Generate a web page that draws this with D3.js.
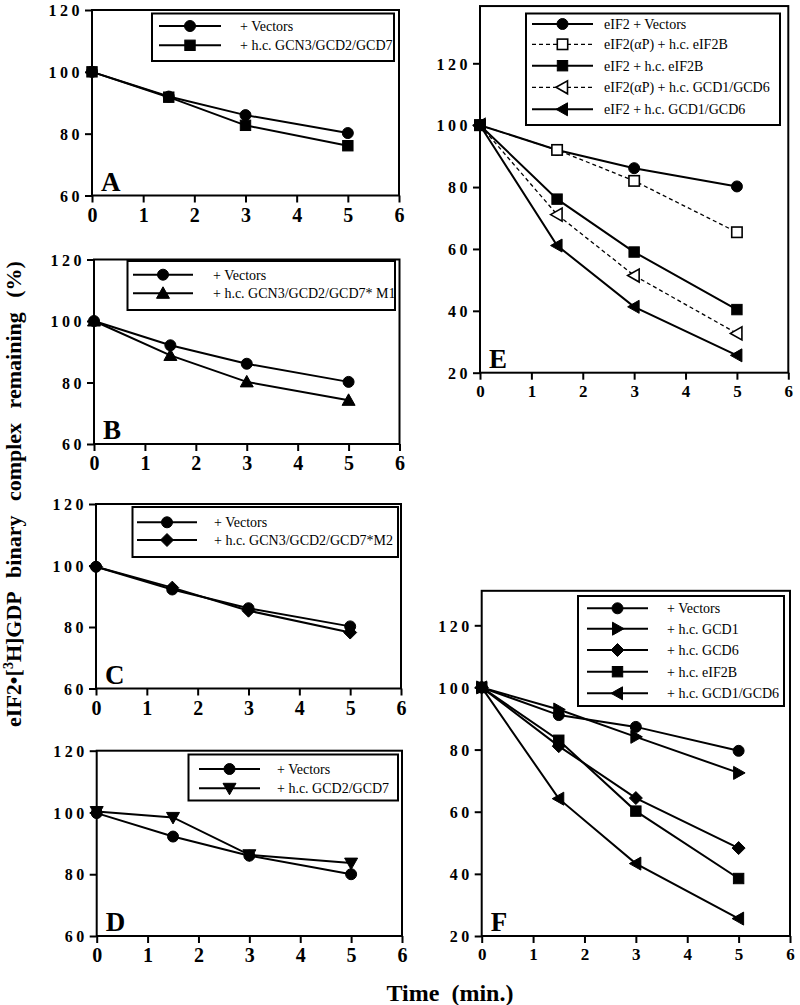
<!DOCTYPE html>
<html><head><meta charset="utf-8">
<script src="https://cdn.jsdelivr.net/npm/d3@7"></script>
<style>
body{margin:0;background:#fff;}
svg{display:block;}
text{font-family:"Liberation Serif","Times New Roman",serif;}
</style></head>
<body>
<svg id="chart" width="800" height="1005"></svg>
<script>
// ---------- data ----------
const times = [0, 1.5, 3, 5];
const xTicks = [0, 1, 2, 3, 4, 5, 6];
const yTicksSmall = [60, 80, 100, 120];
const yTicksLarge = [20, 40, 60, 80, 100, 120];

const A_vectors = [100, 92, 86, 80.2];
const A_gcn3 = [100, 91.8, 82.7, 76.1];
const B_vectors = [100, 92.1, 86.1, 80.2];
const B_m1 = [100, 88.8, 80.2, 74.2];
const C_vectors = [99.6, 92.2, 86.1, 80.2];
const C_m2 = [99.6, 92.8, 85.3, 78.2];
const D_vectors = [99.8, 92.2, 86, 80];
const D_gcd27 = [100.3, 98.4, 86.3, 83.6];

const E_vectors = [100, 92, 86.1, 80.2];
const E_p_eif2b = [100, 92, 82, 65.4];
const E_eif2b = [100, 76.1, 59, 40.4];
const E_p_gcd16 = [100, 71.1, 51.4, 32.7];
const E_gcd16 = [100, 61.1, 41.3, 25.6];

const F_vectors = [100, 91.1, 87.3, 79.6];
const F_gcd1 = [100, 92.9, 84.1, 72.5];
const F_gcd6 = [100, 81.1, 64.4, 48.3];
const F_eif2b = [100, 83, 60.2, 38.5];
const F_gcd16 = [100, 64.2, 43.3, 25.6];

const A_labels = ["+ Vectors", "+ h.c. GCN3/GCD2/GCD7"];
const B_labels = ["+ Vectors", "+ h.c. GCN3/GCD2/GCD7* M1"];
const C_labels = ["+ Vectors", "+ h.c. GCN3/GCD2/GCD7*M2"];
const D_labels = ["+ Vectors", "+ h.c. GCD2/GCD7"];
const E_labels = ["eIF2 + Vectors", "eIF2(\u03B1P) + h.c. eIF2B", "eIF2 + h.c. eIF2B", "eIF2(\u03B1P) + h.c. GCD1/GCD6", "eIF2 + h.c. GCD1/GCD6"];
const F_labels = ["+ Vectors", "+ h.c. GCD1", "+ h.c. GCD6", "+ h.c. eIF2B", "+ h.c. GCD1/GCD6"];

// ---------- layout ----------
const svg = d3.select("#chart");
const FONT = '"Liberation Serif","Times New Roman",serif';

function marker(g, type, cx, cy){
  let el;
  const filled = !type.startsWith("open");
  const t = type.replace("open-","");
  if (t === "circle") el = g.append("circle").attr("cx", cx).attr("cy", cy).attr("r", 5.5);
  else if (t === "square") el = g.append("rect").attr("x", cx-5.2).attr("y", cy-5.2).attr("width", 10.4).attr("height", 10.4);
  else if (t === "tri-up") el = g.append("path").attr("d", `M${cx},${cy-6.5}L${cx+6.5},${cy+5}L${cx-6.5},${cy+5}Z`);
  else if (t === "tri-down") el = g.append("path").attr("d", `M${cx},${cy+6.5}L${cx+6.5},${cy-5}L${cx-6.5},${cy-5}Z`);
  else if (t === "tri-left") el = g.append("path").attr("d", `M${cx-6.5},${cy}L${cx+5},${cy-6.5}L${cx+5},${cy+6.5}Z`);
  else if (t === "tri-right") el = g.append("path").attr("d", `M${cx+6.5},${cy}L${cx-5},${cy-6.5}L${cx-5},${cy+6.5}Z`);
  else if (t === "diamond") el = g.append("path").attr("d", `M${cx},${cy-6.5}L${cx+6.5},${cy}L${cx},${cy+6.5}L${cx-6.5},${cy}Z`);
  el.attr("fill", filled ? "#000" : "#fff").attr("stroke", "#000").attr("stroke-width", filled ? 1 : 1.6);
}

function panel(cfg){
  const x = d3.scaleLinear().domain([0, 6]).range([cfg.x0, cfg.x6]);
  const y = d3.scaleLinear().domain([cfg.yMin, cfg.yTopTick]).range([cfg.yBot, cfg.yTopPix]);
  const yFrameTop = y(cfg.yMax);
  const g = svg.append("g");

  g.append("rect").attr("x", x(0)).attr("y", yFrameTop).attr("width", x(6)-x(0)).attr("height", y(cfg.yMin)-yFrameTop)
    .attr("fill", "none").attr("stroke", "#000").attr("stroke-width", 2);

  const ax = g.append("g").attr("transform", `translate(0,${y(cfg.yMin)})`)
    .call(d3.axisBottom(x).tickValues(xTicks).tickSize(7).tickSizeOuter(0).tickPadding(cfg.xPad).tickFormat(d3.format("d")));
  ax.select(".domain").remove();
  ax.selectAll("line").attr("stroke-width", 2);
  ax.selectAll("text").attr("font-family", FONT).attr("font-weight", "bold").attr("font-size", cfg.xFont);

  const ay = g.append("g").attr("transform", `translate(${x(0)},0)`)
    .call(d3.axisLeft(y).tickValues(cfg.yTicks).tickSize(7).tickSizeOuter(0).tickPadding(2).tickFormat(d3.format("d")));
  ay.select(".domain").remove();
  ay.selectAll("line").attr("stroke-width", 2);
  ay.selectAll("text").attr("font-family", FONT).attr("font-weight", "bold").attr("font-size", 16)
    .attr("letter-spacing", "3.5px").attr("dy", "0.36em");

  g.append("text").attr("x", x(0) + 9).attr("y", y(cfg.yMin) - 5).text(cfg.letter)
    .attr("font-family", FONT).attr("font-weight", "bold").attr("font-size", 27);

  cfg.series.forEach(s => {
    const pts = times.map((t, i) => [x(t), y(s.values[i])]);
    g.append("path").attr("d", d3.line()(pts)).attr("fill", "none").attr("stroke", "#000")
      .attr("stroke-width", s.dash ? 1.3 : 2).attr("stroke-dasharray", s.dash ? "4,3" : null);
    pts.forEach(p => marker(g, s.marker, p[0], p[1]));
  });

  const L = cfg.legend;
  g.append("rect").attr("x", L.x1).attr("y", L.y1).attr("width", L.x2-L.x1).attr("height", L.y2-L.y1)
    .attr("fill", "#fff").attr("stroke", "#000").attr("stroke-width", 2);
  cfg.series.forEach((s, i) => {
    const ry = L.rows[i];
    g.append("line").attr("x1", L.lx1).attr("x2", L.lx2).attr("y1", ry).attr("y2", ry)
      .attr("stroke", "#000").attr("stroke-width", s.dash ? 1.3 : 2).attr("stroke-dasharray", s.dash ? "4,3" : null);
    marker(g, s.marker, (L.lx1+L.lx2)/2, ry);
    g.append("text").attr("x", L.tx).attr("y", ry).attr("dy", "0.35em").text(cfg.labels[i])
      .attr("font-family", FONT).attr("font-size", L.size);
  });
}

panel({letter:"A", x0:92, x6:399, yMin:60, yMax:120, yTopTick:120, yBot:195.5, yTopPix:10, yTicks:yTicksSmall, xFont:20, xPad:5,
  series:[{values:A_vectors, marker:"circle"},{values:A_gcn3, marker:"square"}], labels:A_labels,
  legend:{x1:152, x2:394, y1:13.5, y2:61, rows:[26, 45.3], lx1:159, lx2:221, tx:240, size:14}});

panel({letter:"B", x0:94, x6:399.5, yMin:60, yMax:120, yTopTick:120, yBot:444, yTopPix:259.5, yTicks:yTicksSmall, xFont:20, xPad:5,
  series:[{values:B_vectors, marker:"circle"},{values:B_m1, marker:"tri-up"}], labels:B_labels,
  legend:{x1:127.5, x2:395, y1:261, y2:310, rows:[274.7, 293.3], lx1:133, lx2:193, tx:213, size:14}});

panel({letter:"C", x0:96, x6:401, yMin:60, yMax:120, yTopTick:120, yBot:688.5, yTopPix:504, yTicks:yTicksSmall, xFont:20, xPad:5,
  series:[{values:C_vectors, marker:"circle"},{values:C_m2, marker:"diamond"}], labels:C_labels,
  legend:{x1:132.5, x2:398, y1:507, y2:557, rows:[522.3, 540], lx1:137, lx2:197, tx:214, size:14}});

panel({letter:"D", x0:96.7, x6:402, yMin:60, yMax:120, yTopTick:120, yBot:936, yTopPix:750.7, yTicks:yTicksSmall, xFont:20, xPad:5,
  series:[{values:D_vectors, marker:"circle"},{values:D_gcd27, marker:"tri-down"}], labels:D_labels,
  legend:{x1:188.5, x2:398, y1:754.5, y2:800.5, rows:[769, 788.3], lx1:199, lx2:260, tx:277, size:14}});

panel({letter:"E", x0:480, x6:788.3, yMin:20, yMax:138.5, yTopTick:120, yBot:372.7, yTopPix:63.3, yTicks:yTicksLarge, xFont:17, xPad:5,
  series:[{values:E_vectors, marker:"circle"},{values:E_p_eif2b, marker:"open-square", dash:true},{values:E_eif2b, marker:"square"},
          {values:E_p_gcd16, marker:"open-tri-left", dash:true},{values:E_gcd16, marker:"tri-left"}], labels:E_labels,
  legend:{x1:526, x2:780, y1:13.5, y2:125, rows:[24, 44.3, 65.7, 87.3, 109.3], lx1:532, lx2:593, tx:604, size:14}});

panel({letter:"F", x0:481.7, x6:790, yMin:20, yMax:131.1, yTopTick:120, yBot:936, yTopPix:625.3, yTicks:yTicksLarge, xFont:17, xPad:5,
  series:[{values:F_vectors, marker:"circle"},{values:F_gcd1, marker:"tri-right"},{values:F_gcd6, marker:"diamond"},
          {values:F_eif2b, marker:"square"},{values:F_gcd16, marker:"tri-left"}], labels:F_labels,
  legend:{x1:578, x2:784, y1:596, y2:706, rows:[608.3, 628.7, 650, 671.7, 693.3], lx1:587, lx2:648, tx:667, size:14}});

// axis titles
const yt = svg.append("text").attr("transform", "translate(21,494) rotate(-90)").attr("text-anchor", "middle")
  .attr("font-family", FONT).attr("font-weight", "bold").attr("font-size", 22).attr("word-spacing", "9px");
yt.append("tspan").text("eIF2\u2022[");
yt.append("tspan").text("3").attr("font-size", 14).attr("dy", -8);
yt.append("tspan").text("H]GDP  binary  complex  remaining  (%)").attr("dy", 8);

svg.append("text").attr("x", 450).attr("y", 1001).attr("text-anchor", "middle")
  .attr("font-family", FONT).attr("font-weight", "bold").attr("font-size", 24).attr("word-spacing", "6px")
  .text("Time  (min.)");
</script>
</body></html>
